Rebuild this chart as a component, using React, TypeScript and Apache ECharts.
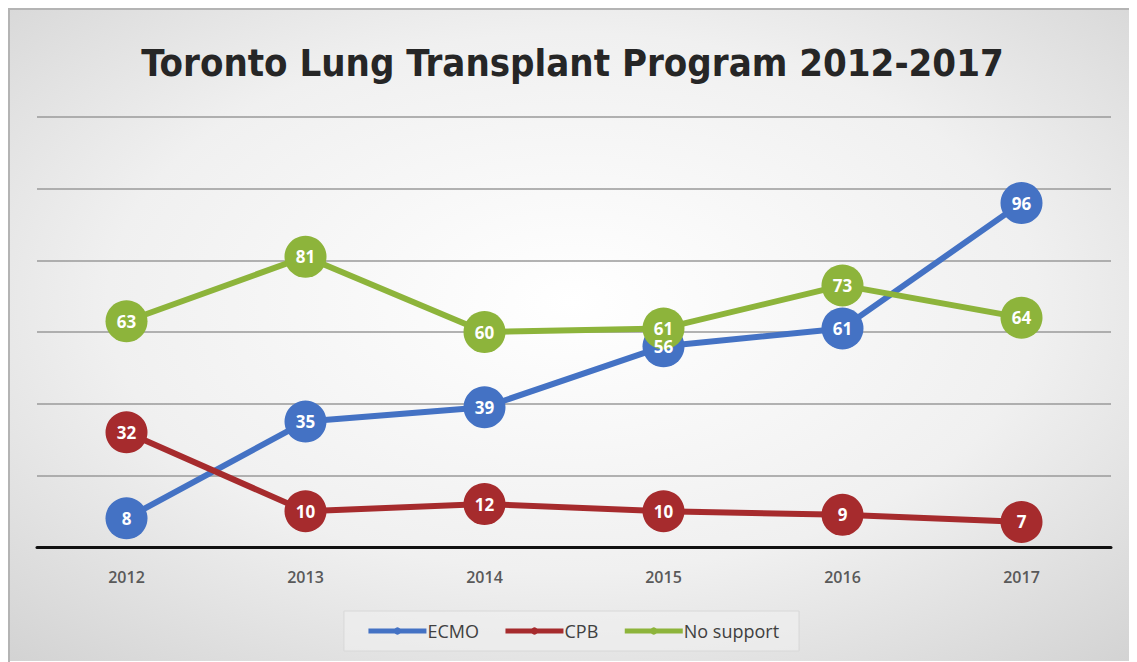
import React, { useEffect, useRef } from "react";
import * as echarts from "echarts";

const years = ["2012", "2013", "2014", "2015", "2016", "2017"];
const ecmo = [8, 35, 39, 56, 61, 96];
const cpb = [32, 10, 12, 10, 9, 7];
const noSupport = [63, 81, 60, 61, 73, 64];

const seriesNames = ["ECMO", "CPB", "No support"];
const seriesColors = ["#4472C4", "#A62B2D", "#8DB43B"];

export default function App() {
  const ref = useRef<HTMLDivElement>(null);
  useEffect(() => {
    if (!ref.current) return;
    const chart = echarts.init(ref.current, undefined, { renderer: "svg" });
    const datasets = [ecmo, cpb, noSupport];
    chart.setOption({
      animation: false,
      backgroundColor: {
        type: "radial",
        x: 0.5,
        y: 0.45,
        r: 0.75,
        colorStops: [
          { offset: 0, color: "#ffffff" },
          { offset: 0.55, color: "#f0f0f0" },
          { offset: 1, color: "#d2d2d2" },
        ],
      },
      title: {
        text: "Toronto Lung Transplant Program 2012-2017",
        left: "center",
        top: 30,
        textStyle: {
          fontFamily: "'Liberation Sans Narrow', 'DejaVu Sans Condensed', sans-serif",
          fontSize: 38,
          fontWeight: "bold",
          color: "#262626",
        },
      },
      legend: {
        data: seriesNames,
        bottom: 10,
        left: "center",
        itemWidth: 58,
        itemHeight: 9,
        itemGap: 24,
        padding: [11, 20, 11, 22],
        backgroundColor: "rgba(240,240,240,0.6)",
        borderColor: "#d8d8d8",
        borderWidth: 1,
        lineStyle: { width: 5 },
        textStyle: {
          fontFamily: "'Open Sans', sans-serif",
          fontSize: 18,
          color: "#404040",
          padding: [0, 0, 0, -4],
        },
      },
      grid: { left: 28, right: 25, top: 108, bottom: 114 },
      xAxis: {
        type: "category",
        data: years,
        boundaryGap: true,
        axisLine: { lineStyle: { color: "#111111", width: 3 } },
        axisTick: { show: false },
        axisLabel: {
          margin: 22,
          fontFamily: "'Open Sans', sans-serif",
          fontSize: 16,
          fontWeight: 600,
          color: "#595959",
        },
      },
      yAxis: {
        type: "value",
        min: 0,
        max: 120,
        interval: 20,
        axisLabel: { show: false },
        axisLine: { show: false },
        axisTick: { show: false },
        splitLine: { lineStyle: { color: "#9a9a9a", width: 1.5 } },
      },
      series: datasets.map((d, i) => ({
        name: seriesNames[i],
        type: "line",
        data: d,
        color: seriesColors[i],
        symbol: "circle",
        symbolSize: 42,
        lineStyle: { width: 6, color: seriesColors[i] },
        itemStyle: { color: seriesColors[i] },
        label: {
          show: true,
          position: "inside",
          color: "#ffffff",
          fontFamily: "'Open Sans', sans-serif",
          fontWeight: "bold",
          fontSize: 17,
        },
      })),
    });
    return () => chart.dispose();
  }, []);
  return (
    <div
      style={{
        width: 1129,
        height: 654,
        boxSizing: "border-box",
        borderTop: "2px solid #b4b4b4",
        borderLeft: "2px solid #b4b4b4",
        overflow: "hidden",
      }}
    >
      <div ref={ref} style={{ width: 1127, height: 652, marginTop: -1, marginLeft: -1 }} />
    </div>
  );
}
